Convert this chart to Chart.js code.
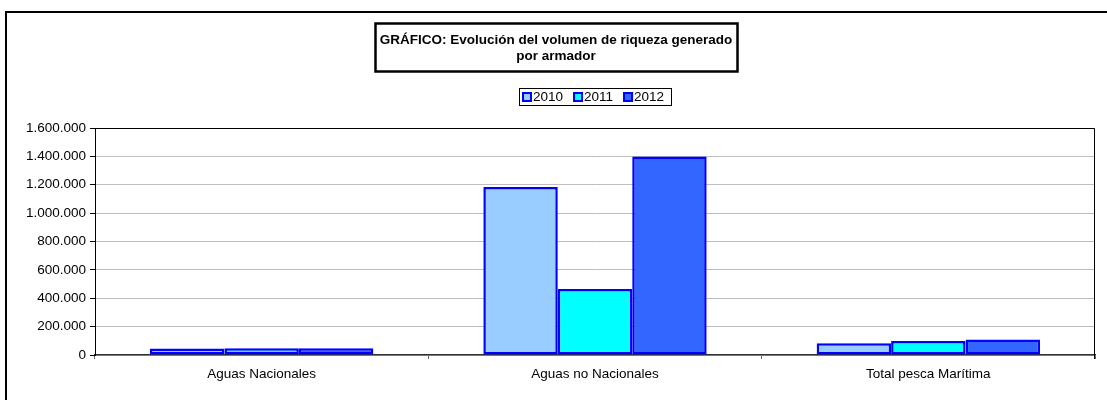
<!DOCTYPE html>
<html>
<head>
<meta charset="utf-8">
<script src="https://cdn.jsdelivr.net/npm/chart.js@4.4.1/dist/chart.umd.min.js"></script>
<style>
  html, body { margin: 0; padding: 0; background: #fff; }
  #wrap { position: absolute; left: 0; top: 0; width: 1107px; height: 400px; }
</style>
</head>
<body>
<div id="wrap"><canvas id="c" width="1107" height="400"></canvas></div>
<script>
const categories = ['Aguas Nacionales', 'Aguas no Nacionales', 'Total pesca Marítima'];
const seriesNames = ['2010', '2011', '2012'];
const values2010 = [46000, 1184000, 82000];
const values2011 = [47000, 466000, 99000];
const values2012 = [48000, 1400000, 110000];
const yTicks = [0, 200000, 400000, 600000, 800000, 1000000, 1200000, 1400000, 1600000];
const titleLines = ['GRÁFICO: Evolución del volumen de riqueza generado', 'por armador'];

const fillColors = ['#99CCFF', '#00FFFF', '#3366FF'];
const FONT = '"Liberation Sans", Arial, sans-serif';

function fmt(v) {
  return String(Math.round(v)).replace(/\B(?=(\d{3})+(?!\d))/g, '.');
}

const decor = {
  id: 'decor',
  beforeDraw(chart) {
    const ctx = chart.ctx;
    ctx.save();
    ctx.fillStyle = '#000';
    ctx.fillRect(5, 11, 2, 400);
    ctx.fillRect(5, 11, 1110, 2);
    ctx.restore();
  },
  afterDatasetsDraw(chart) {
    const ctx = chart.ctx;
    const a = chart.chartArea;
    ctx.save();
    ctx.strokeStyle = '#000';
    ctx.lineWidth = 1;
    ctx.beginPath();
    ctx.moveTo(a.left + 0.5, a.top + 0.5);
    ctx.lineTo(a.right - 0.5, a.top + 0.5);
    ctx.lineTo(a.right - 0.5, a.bottom + 4);
    ctx.stroke();
    ctx.restore();
  },
  afterDraw(chart) {
    const ctx = chart.ctx;
    ctx.save();
    // Title box
    ctx.strokeStyle = '#000';
    ctx.lineWidth = 2.5;
    ctx.strokeRect(375.5, 23.5, 362, 48);
    ctx.fillStyle = '#000';
    ctx.font = 'bold 13.5px ' + FONT;
    ctx.textAlign = 'center';
    ctx.textBaseline = 'middle';
    ctx.fillText(titleLines[0], 556, 40);
    ctx.fillText(titleLines[1], 556, 56);
    // Legend box
    ctx.lineWidth = 1;
    ctx.strokeStyle = '#000';
    ctx.strokeRect(519.5, 88.5, 152, 17);
    ctx.font = '13.5px ' + FONT;
    ctx.textAlign = 'left';
    let x = 522;
    chart.data.datasets.forEach((ds) => {
      ctx.fillStyle = ds.backgroundColor;
      ctx.fillRect(x, 92, 10, 10);
      ctx.strokeStyle = ds.borderColor;
      ctx.lineWidth = 2;
      ctx.strokeRect(x + 1, 93, 8, 8);
      ctx.fillStyle = '#000';
      ctx.fillText(ds.label, x + 11, 97.5);
      x += 11 + ctx.measureText(ds.label).width + 10;
    });
    ctx.restore();
  }
};

new Chart(document.getElementById('c'), {
  type: 'bar',
  data: {
    labels: categories,
    datasets: [values2010, values2011, values2012].map((vals, i) => ({
      label: seriesNames[i],
      data: vals,
      backgroundColor: fillColors[i],
      borderColor: '#0000FF',
      borderWidth: 2.5,
      borderSkipped: false,
      categoryPercentage: 0.67,
      barPercentage: 1.0
    }))
  },
  options: {
    responsive: false,
    animation: false,
    devicePixelRatio: 1,
    layout: { padding: { left: 0, right: 12, top: 128, bottom: 0 } },
    plugins: {
      legend: { display: false },
      title: { display: false },
      tooltip: { enabled: false }
    },
    scales: {
      x: {
        afterFit(s) { s.height = 45; },
        grid: {
          offset: true,
          drawOnChartArea: false,
          tickLength: 4,
          color: '#666',
          tickColor: '#666'
        },
        border: { color: '#333', width: 1.5 },
        ticks: { color: '#000', font: { family: FONT, size: 13.5 }, padding: 7 }
      },
      y: {
        min: 0,
        max: 1600000,
        afterFit(s) { s.width = 95; },
        afterBuildTicks(s) { s.ticks = yTicks.map(v => ({ value: v })); },
        grid: {
          color: '#BDBDBD',
          tickColor: '#000',
          tickLength: 5
        },
        border: { color: '#000', width: 1 },
        ticks: {
          color: '#000',
          font: { family: FONT, size: 13.5 },
          padding: 4,
          callback: (v) => fmt(v)
        }
      }
    }
  },
  plugins: [decor]
});
</script>
</body>
</html>
